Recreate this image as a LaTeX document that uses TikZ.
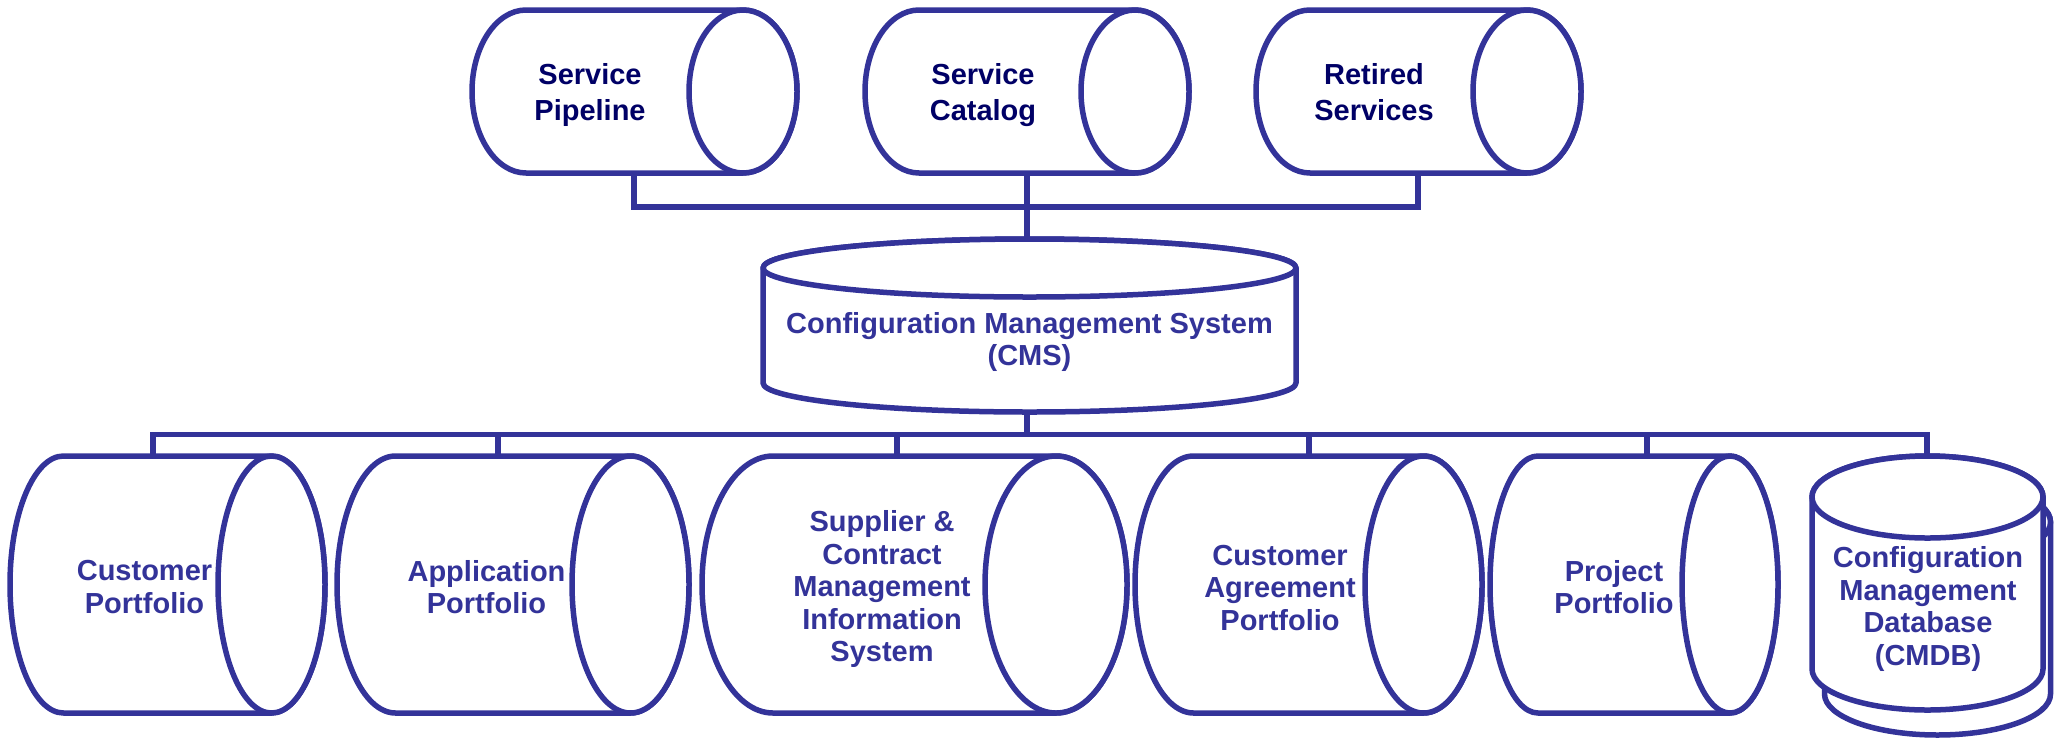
\documentclass[tikz,border=0pt]{standalone}
\usepackage{fontspec}
\setmainfont{Liberation Sans}
\definecolor{lineblue}{RGB}{51,51,153}
\definecolor{topnavy}{RGB}{0,0,102}
\tikzset{
  cyl/.style={draw=lineblue, line width=5.5pt, fill=white, line join=round},
  conn/.style={draw=lineblue, line width=5.5pt, line join=miter},
  toplabel/.style={text=topnavy, align=center, inner sep=0pt,
    font=\fontsize{29}{36}\selectfont\bfseries},
  label/.style={text=lineblue, align=center, inner sep=0pt,
    font=\fontsize{29}{32.5}\selectfont\bfseries},
}
% horizontal tube: left, right, top, bottom, rx  (pixel units, y downward)
\newcommand{\hcyl}[5]{%
  \pgfmathsetmacro\cA{#1+#5}%
  \pgfmathsetmacro\cE{#2-#5}%
  \pgfmathsetmacro\cRy{(#4-#3)/2}%
  \pgfmathsetmacro\cM{-(#3+#4)/2}%
  \draw[cyl] (\cA,-#3) -- (\cE,-#3)
    arc[start angle=90,end angle=-90,x radius=#5pt,y radius=\cRy pt]
    -- (\cA,-#4)
    arc[start angle=270,end angle=90,x radius=#5pt,y radius=\cRy pt] -- cycle;
  \draw[cyl] (\cE,\cM) ellipse [x radius=#5pt, y radius=\cRy pt];
}
% vertical drum: cx, rx, top-ellipse y, bottom-ellipse y, ry
\newcommand{\vcyl}[5]{%
  \pgfmathsetmacro\cL{#1-#2}%
  \pgfmathsetmacro\cR{#1+#2}%
  \draw[cyl] (\cL,-#3) -- (\cL,-#4)
    arc[start angle=180,end angle=360,x radius=#2pt,y radius=#5pt]
    -- (\cR,-#3)
    arc[start angle=0,end angle=180,x radius=#2pt,y radius=#5pt] -- cycle;
  \draw[cyl] (#1,-#3) ellipse [x radius=#2pt, y radius=#5pt];
}
\begin{document}
\begin{tikzpicture}[x=1pt,y=1pt]
\useasboundingbox (0,0) rectangle (2055,-740);

% connection points
\coordinate (sp-b) at (634,-173);
\coordinate (sc-b) at (1027,-173);
\coordinate (rs-b) at (1418,-173);
\coordinate (busT) at (1027,-207);
\coordinate (cms-t) at (1027,-239);
\coordinate (cms-b) at (1027,-412);
\coordinate (busB) at (1027,-434.5);
\coordinate (cp-t) at (153,-456);
\coordinate (ap-t) at (498,-456);
\coordinate (sm-t) at (897,-456);
\coordinate (ca-t) at (1309,-456);
\coordinate (pp-t) at (1647,-456);
\coordinate (db-t) at (1927,-455);

% connectors
\draw[conn] (sp-b) |- (busT) -| (rs-b);
\draw[conn] (sc-b) -- (cms-t);
\draw[conn] (cms-b) -- (busB);
\draw[conn] (cp-t) |- (busB) -| (db-t);
\draw[conn] (ap-t) -- (ap-t |- busB);
\draw[conn] (sm-t) -- (sm-t |- busB);
\draw[conn] (ca-t) -- (ca-t |- busB);
\draw[conn] (pp-t) -- (pp-t |- busB);

% top row
\hcyl{472}{797}{10}{173}{54}
\hcyl{865}{1189}{10}{173}{54}
\hcyl{1256}{1581}{10}{173}{54}
\node[toplabel] (sp) at (590,-95) {Service\\Pipeline};
\node[toplabel] (sc) at (983,-95) {Service\\Catalog};
\node[toplabel] (rs) at (1374,-92) {Retired\\Services};

% CMS
\vcyl{1029.5}{266.5}{268}{383}{29}
\node[label] (cms) at (1029.5,-342) {Configuration Management System\\(CMS)};

% bottom row
\hcyl{10}{325}{456}{713}{53.5}
\hcyl{337}{689}{456}{713}{58.5}
\hcyl{702}{1127}{456}{713}{71}
\hcyl{1135}{1482}{456}{713}{58.5}
\hcyl{1490}{1778}{456}{713}{48}
\node[label] (cp) at (144.5,-587) {Customer\\Portfolio};
\node[label] (ap) at (486.5,-587) {Application\\Portfolio};
\node[label] (sm) at (882,-589) {Supplier \&\\Contract\\Management\\Information\\System};
\node[label] (ca) at (1280,-588) {Customer\\Agreement\\Portfolio};
\node[label] (pp) at (1614,-587) {Project\\Portfolio};

% CMDB (two stacked drums)
\vcyl{1937.5}{113}{522}{694}{41}
\vcyl{1927.5}{115.5}{497}{669}{41}
\node[label] (db) at (1928,-609) {Configuration\\Management\\Database\\(CMDB)};
\end{tikzpicture}
\end{document}
